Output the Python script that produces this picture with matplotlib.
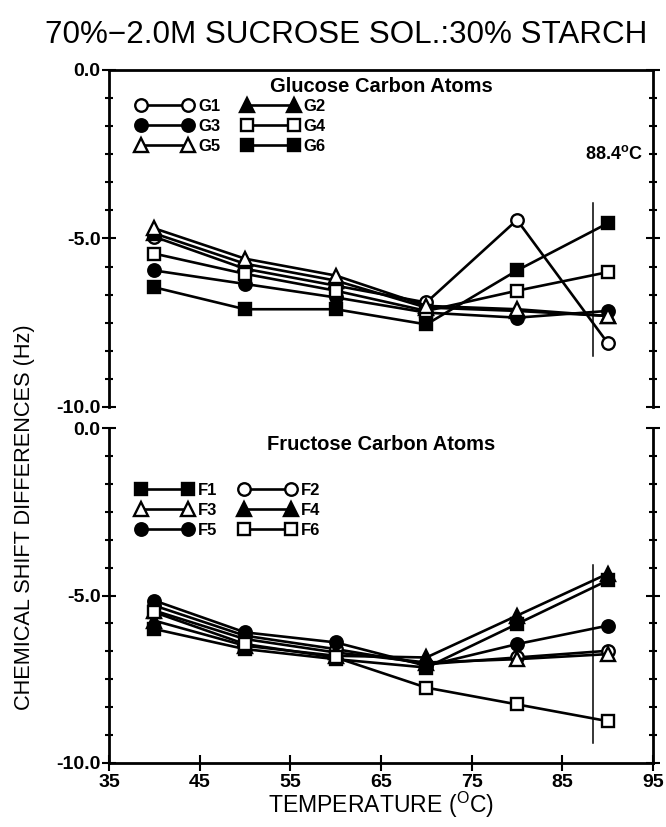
import numpy as np
import matplotlib.pyplot as plt
from matplotlib import font_manager
from matplotlib.ticker import FixedLocator

# data
temps = [40, 50, 60, 70, 80, 90]

g1 = [-4.95, -5.90, -6.40, -6.90, -4.45, -8.10]
g2 = [-4.85, -5.75, -6.25, -7.05, -7.15, -7.30]
g3 = [-5.95, -6.35, -6.75, -7.20, -7.35, -7.15]
g4 = [-5.45, -6.05, -6.55, -7.15, -6.55, -6.00]
g5 = [-4.70, -5.60, -6.10, -7.00, -7.10, -7.30]
g6 = [-6.45, -7.10, -7.10, -7.55, -5.95, -4.55]

f1 = [-6.00, -6.60, -6.90, -7.15, -5.85, -4.55]
f2 = [-5.30, -6.20, -6.60, -7.05, -6.85, -6.65]
f3 = [-5.45, -6.30, -6.70, -7.00, -6.90, -6.75]
f4 = [-5.75, -6.50, -6.80, -6.85, -5.60, -4.35]
f5 = [-5.15, -6.10, -6.40, -7.10, -6.45, -5.90]
f6 = [-5.50, -6.45, -6.85, -7.75, -8.25, -8.75]

glucose_names = ['G1', 'G2', 'G3', 'G4', 'G5', 'G6']
fructose_names = ['F1', 'F2', 'F3', 'F4', 'F5', 'F6']

transition_temp = 88.4
top_vline = [-3.95, -8.5]
bottom_vline = [-4.1, -9.4]

y_major = [-10, -5, 0]
y_labels = ['-10.0', '-5.0', '0.0']
x_ticks = [35, 45, 55, 65, 75, 85, 95]

# marker, face colour
styles = {
    'G1': ('o', 'white'), 'G2': ('^', 'black'), 'G3': ('o', 'black'),
    'G4': ('s', 'white'), 'G5': ('^', 'white'), 'G6': ('s', 'black'),
    'F1': ('s', 'black'), 'F2': ('o', 'white'), 'F3': ('^', 'white'),
    'F4': ('^', 'black'), 'F5': ('o', 'black'), 'F6': ('s', 'white'),
}
msize = {'o': 9, 's': 8.5, '^': 9.5}

installed = {f.name for f in font_manager.fontManager.ttflist}
narrow = 'Liberation Sans Narrow' if 'Liberation Sans Narrow' in installed else 'Liberation Sans'
scale = 1.0 if narrow == 'Liberation Sans Narrow' else 0.87

plt.rcParams['font.family'] = ['Liberation Sans', 'DejaVu Sans']
plt.rcParams['axes.unicode_minus'] = False
plt.rcParams['mathtext.fontset'] = 'custom'
plt.rcParams['mathtext.rm'] = 'Liberation Sans'
plt.rcParams['mathtext.bf'] = 'Liberation Sans:bold'

fig = plt.figure(figsize=(6.66, 8.27), dpi=100)
ax1 = fig.add_axes([0.1637, 0.5079, 0.8168, 0.4075])
ax2 = fig.add_axes([0.1637, 0.0774, 0.8168, 0.4050])


def draw_panel(ax, names, values, title, order, vline, leg_y):
    handles = {}
    for name, vals in zip(names, values):
        m, face = styles[name]
        h, = ax.plot(temps, vals, color='black', lw=1.9, marker=m,
                     ms=msize[m], mfc=face, mec='black', mew=1.7, label=name)
        handles[name] = h
    ax.plot([transition_temp, transition_temp], vline, color='black', lw=1.1)
    ax.set_xlim(35, 95)
    ax.set_ylim(-10, 0)
    ax.yaxis.set_major_locator(FixedLocator(y_major))
    ax.set_yticklabels(y_labels, fontweight='bold', fontsize=14)
    minor = [v for v in np.linspace(-10, 0, 13) if v not in y_major]
    ax.yaxis.set_minor_locator(FixedLocator(minor))
    ax.tick_params(axis='y', which='both', direction='inout', left=True, right=True, width=1.5, pad=1)
    ax.tick_params(axis='y', which='major', length=10)
    ax.tick_params(axis='y', which='minor', length=6)
    for s in ax.spines.values():
        s.set_linewidth(2)
    ax.text(0.5, 0.95, title, transform=ax.transAxes, ha='center', va='center',
            fontsize=14.5, fontweight='bold')
    ax.legend([handles[n] for n in order], order, loc='upper left',
              bbox_to_anchor=(0.035, leg_y), ncol=2, frameon=False,
              numpoints=2, handlelength=3.4, handletextpad=0.3,
              columnspacing=1.3, labelspacing=0.3, borderpad=0,
              prop={'weight': 'bold', 'size': 12})


draw_panel(ax1, glucose_names, [g1, g2, g3, g4, g5, g6],
           'Glucose Carbon Atoms', ['G1', 'G3', 'G5', 'G2', 'G4', 'G6'], top_vline, 0.94)
draw_panel(ax2, fructose_names, [f1, f2, f3, f4, f5, f6],
           'Fructose Carbon Atoms', ['F1', 'F3', 'F5', 'F2', 'F4', 'F6'], bottom_vline, 0.86)

ax1.spines['bottom'].set_visible(False)
ax1.tick_params(axis='x', bottom=False, labelbottom=False)
ax2.spines['top'].set_visible(False)
ax2.xaxis.set_major_locator(FixedLocator(x_ticks))
ax2.set_xticklabels([str(t) for t in x_ticks], fontweight='bold', fontsize=14)
ax2.tick_params(axis='x', direction='inout', length=12, width=1.5, pad=2)

ax1.text(90.7, -2.5, '88.4$^{\\mathbf{o}}$C', ha='center', va='center',
         fontsize=13, fontweight='bold')

fig.text(0.52, 0.958, '70%\u22122.0M SUCROSE SOL.:30% STARCH', ha='center', va='center',
         fontsize=26 * scale, family=narrow)
fig.text(0.572, 0.027, 'TEMPERATURE ($^{\\mathrm{O}}$C)', ha='center', va='center',
         fontsize=19 * scale, family=narrow)
fig.text(0.0375, 0.375, 'CHEMICAL SHIFT DIFFERENCES (Hz)', rotation=90,
         ha='center', va='center', fontsize=18 * scale, family=narrow)

fig.savefig('out.png', dpi=100)
